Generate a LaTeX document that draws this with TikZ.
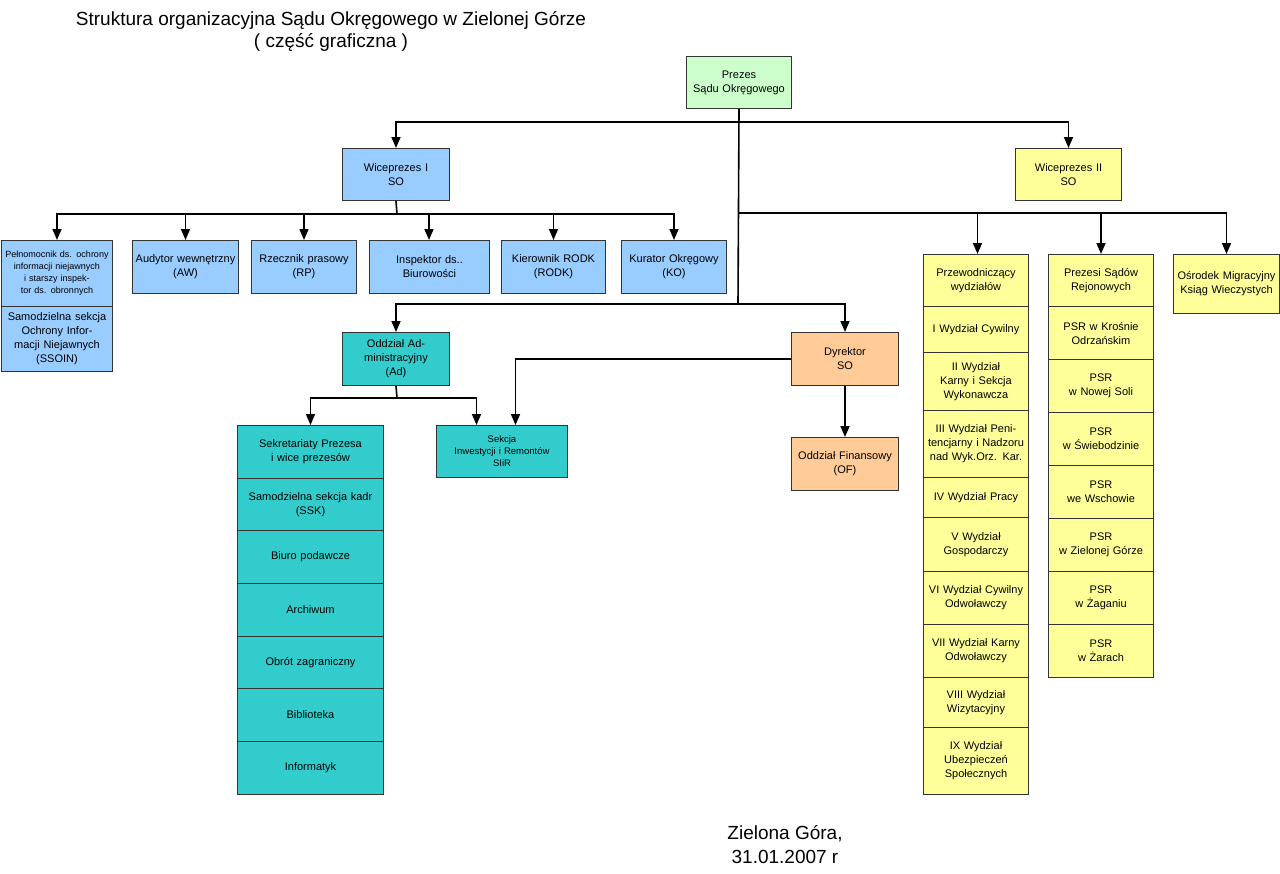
\documentclass[tikz,border=0pt]{standalone}
\usepackage{fontspec}
\setmainfont{Liberation Sans}
\usetikzlibrary{arrows.meta}
\begin{document}
\begin{tikzpicture}[x=1pt,y=-1pt,
 bx/.style n args={4}{draw=black!80,line width=1pt,anchor=north west,inner sep=0pt,
   minimum width=#3-#1,minimum height=#4-#2,text width=#3-#1-4,align=center,
   font=\fontsize{11}{14}\selectfont},
 ln/.style={line width=1.6pt},
 ar/.style={line width=1.6pt,-{Triangle[width=9pt,length=11pt]}},
 bl/.style={fill=blue!40!cyan!30!white},
 ye/.style={fill=yellow!45},
 te/.style={fill=cyan!75!green!80!black!75},
 ora/.style={fill=orange!40},
 gr/.style={fill=green!20}]
\useasboundingbox (0,0) rectangle (1280,873);
\definecolor{cblue}{HTML}{99CCFF}\definecolor{cyel}{HTML}{FFFF99}
\definecolor{cteal}{HTML}{33CCCC}\definecolor{corg}{HTML}{FFCC99}\definecolor{cgrn}{HTML}{CCFFCC}
\tikzset{bl/.style={fill=cblue},ye/.style={fill=cyel},te/.style={fill=cteal},ora/.style={fill=corg},gr/.style={fill=cgrn}}
\node[font=\fontsize{19}{22}\selectfont,align=center] (title) at (331,31) {Struktura organizacyjna Sądu Okręgowego w Zielonej Górze\\( część graficzna )};
\node[font=\fontsize{19}{24}\selectfont,align=center] (foot) at (785,845) {Zielona Góra,\\31.01.2007 r};
% top
\node[bx={686}{56}{791}{108},gr] (prezes) at (686,56) {Prezes\\Sądu Okręgowego};
\node[bx={342}{148}{449}{200},bl] (wp1) at (342,148) {Wiceprezes I\\SO};
\node[bx={1015}{148}{1121}{200},ye] (wp2) at (1015,148) {Wiceprezes II\\SO};
% blue row
\node[bx={1}{240}{112}{306},bl,font=\fontsize{9}{12}\selectfont] (peln) at (1,240) {Pełnomocnik ds. ochrony informacji niejawnych\\i starszy inspektor ds. obronnych};
\node[bx={1}{306}{112}{371},bl] (ssoin) at (1,306) {Samodzielna sekcja Ochrony Informacji Niejawnych\\(SSOIN)};
\node[bx={132}{240}{238}{293},bl] (aw) at (132,240) {Audytor wewnętrzny\\(AW)};
\node[bx={251}{240}{356}{293},bl] (rp) at (251,240) {Rzecznik prasowy\\(RP)};
\node[bx={369}{240}{489}{293},bl] (insp) at (369,240) {Inspektor ds..\\Biurowości};
\node[bx={501}{240}{605}{293},bl] (rodk) at (501,240) {Kierownik RODK\\(RODK)};
\node[bx={621}{240}{726}{293},bl] (ko) at (621,240) {Kurator Okręgowy\\(KO)};
% admin
\node[bx={342}{332}{449}{385},te] (oad) at (342,332) {Oddział Administracyjny\\(Ad)};
\node[bx={791}{332}{898}{385},ora] (dyr) at (791,332) {Dyrektor\\SO};
\node[bx={791}{437}{898}{490},ora] (of) at (791,437) {Oddział Finansowy\\(OF)};
\node[bx={436}{425}{567}{477},te,font=\fontsize{9.5}{12}\selectfont] (sir) at (436,425) {Sekcja\\Inwestycji i Remontów\\SIiR};
\node[bx={237}{425}{383}{478},te] (s1) at (237,425) {Sekretariaty Prezesa i wice prezesów};
\node[bx={237}{478}{383}{530},te] (s2) at (237,478) {Samodzielna sekcja kadr\\(SSK)};
\node[bx={237}{530}{383}{583},te] (s3) at (237,530) {Biuro podawcze\\[14pt]};
\node[bx={237}{583}{383}{636},te] (s4) at (237,583) {Archiwum\\[14pt]};
\node[bx={237}{636}{383}{688},te] (s5) at (237,636) {Obrót zagraniczny\\[14pt]};
\node[bx={237}{688}{383}{741},te] (s6) at (237,688) {Biblioteka\\[14pt]};
\node[bx={237}{741}{383}{794},te] (s7) at (237,741) {Informatyk\\[14pt]};
% yellow col1
\node[bx={923}{254}{1028}{306},ye] (w0) at (923,254) {Przewodniczący wydziałów\\[8pt]};
\node[bx={923}{306}{1028}{352},ye] (w1) at (923,306) {I Wydział Cywilny\\[10pt]};
\node[bx={923}{352}{1028}{410},ye] (w2) at (923,352) {II Wydział Karny i Sekcja Wykonawcza};
\node[bx={923}{410}{1028}{477},ye] (w3) at (923,410) {III Wydział Penitencjarny i Nadzoru nad Wyk.Orz. Kar.};
\node[bx={923}{477}{1028}{517},ye] (w4) at (923,477) {IV Wydział Pracy\\[4pt]};
\node[bx={923}{517}{1028}{571},ye] (w5) at (923,517) {V Wydział Gospodarczy\\[8pt]};
\node[bx={923}{571}{1028}{624},ye] (w6) at (923,571) {VI Wydział Cywilny Odwoławczy};
\node[bx={923}{624}{1028}{677},ye] (w7) at (923,624) {VII Wydział Karny Odwoławczy\\[8pt]};
\node[bx={923}{677}{1028}{727},ye] (w8) at (923,677) {VIII Wydział Wizytacyjny\\[8pt]};
\node[bx={923}{727}{1028}{794},ye] (w9) at (923,727) {IX Wydział Ubezpieczeń Społecznych\\[8pt]};
% yellow col2
\node[bx={1048}{254}{1153}{306},ye] (p0) at (1048,254) {Prezesi Sądów Rejonowych\\[8pt]};
\node[bx={1048}{306}{1153}{359},ye] (p1) at (1048,306) {PSR w Krośnie Odrzańskim\\[8pt]};
\node[bx={1048}{359}{1153}{412},ye] (p2) at (1048,359) {PSR\\w Nowej Soli\\[8pt]};
\node[bx={1048}{412}{1153}{465},ye] (p3) at (1048,412) {PSR\\w Świebodzinie\\[8pt]};
\node[bx={1048}{465}{1153}{518},ye] (p4) at (1048,465) {PSR\\we Wschowie\\[8pt]};
\node[bx={1048}{518}{1153}{571},ye] (p5) at (1048,518) {PSR\\w Zielonej Górze\\[8pt]};
\node[bx={1048}{571}{1153}{624},ye] (p6) at (1048,571) {PSR\\w Żaganiu\\[8pt]};
\node[bx={1048}{624}{1153}{677},ye] (p7) at (1048,624) {PSR\\w Żarach\\[8pt]};
\node[bx={1173}{254}{1279}{313},ye] (osr) at (1173,254) {Ośrodek Migracyjny Ksiąg Wieczystych};
% connectors
\coordinate (j1) at (738,122); \coordinate (j2) at (738,213); \coordinate (j3) at (738,304);
\coordinate (j4) at (397,214); \coordinate (j5) at (397,398);
\draw[ln] (prezes.south) -- (j3);
\draw[ar] (j1) -| (wp1.north);
\draw[ar] (j1) -| (wp2.north);
\draw[ln] (wp1.south) -- (j4);
\draw[ar] (j4) -| (peln.north);
\draw[ar] (j4) -| (aw.north);
\draw[ar] (j4) -| (rp.north);
\draw[ar] (j4) -| ([xshift=-0.5pt]insp.north);
\draw[ar] (j4) -| (rodk.north);
\draw[ar] (j4) -| (ko.north);
\draw[ar] (j2) -| ([xshift=1.5pt]w0.north);
\draw[ar] (j2) -| (p0.north);
\draw[ar] (j2) -| (osr.north);
\draw[ar] (j3) -| (oad.north);
\draw[ar] (j3) -| (dyr.north);
\draw[ar] (dyr.west) -| ([xshift=13.5pt]sir.north);
\draw[ar] (dyr.south) -- (of.north);
\draw[ln] (oad.south) -- (j5);
\draw[ar] (j5) -| (s1.north);
\draw[ar] (j5) -| ([xshift=-25.5pt]sir.north);
\end{tikzpicture}
\end{document}
